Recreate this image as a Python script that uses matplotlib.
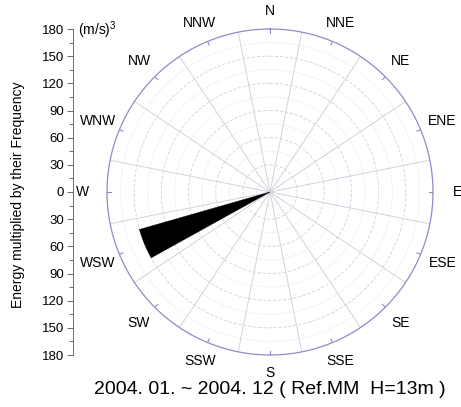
import numpy as np
import matplotlib
matplotlib.use('Agg')
import matplotlib.pyplot as plt

plt.rcParams['font.family'] = 'Liberation Sans'
plt.rcParams['mathtext.fontset'] = 'custom'
plt.rcParams['mathtext.rm'] = 'Liberation Sans'
plt.rcParams['mathtext.default'] = 'regular'

# data
directions = ['N', 'NNE', 'NE', 'ENE', 'E', 'ESE', 'SE', 'SSE',
              'S', 'SSW', 'SW', 'WSW', 'W', 'WNW', 'NW', 'NNW']
energy = [0, 0, 0, 0, 0, 0, 0, 0, 0, 0, 0, 150, 0, 0, 0, 0]
rmax = 180
axis_ticks = [-180, -150, -120, -90, -60, -30, 0, 30, 60, 90, 120, 150, 180]
title = '2004. 01. ~ 2004. 12 ( Ref.MM  H=13m )'

fig = plt.figure(figsize=(4.61, 4.07), dpi=100)

# polar chart
W, H = 461, 407
cx, cy, R = 270, 192, 163
ax = fig.add_axes([(cx - R) / W, (H - cy - R) / H, 2 * R / W, 2 * R / H], projection='polar')
ax.set_theta_zero_location('N')
ax.set_theta_direction(-1)
ax.set_ylim(0, rmax)
ax.set_xticks([])
ax.set_yticks([])
ax.grid(False)
ax.spines['polar'].set_color('#8c8ccc')
ax.spines['polar'].set_linewidth(0.9)

tt = np.linspace(0, 2 * np.pi, 400)
for r in range(15, rmax, 15):
    if r % 30 == 0:
        ax.plot(tt, [r] * len(tt), color='#d0d0e4', lw=0.6, ls=(0, (4, 2)))
    else:
        ax.plot(tt, [r] * len(tt), color='#dcdcea', lw=0.6, ls=(0, (1, 1.5)))

step = 2 * np.pi / len(directions)
for k in range(len(directions)):
    t = k * step + step / 2
    ax.plot([t, t], [0, rmax], color='#d2d2de', lw=0.7)
    t0 = k * step
    ax.plot([t0, t0], [rmax - 4 * rmax / R, rmax], color='#8c8ccc', lw=0.8)

theta = np.arange(len(directions)) * step
ax.bar(theta, energy, width=np.radians(13), color='black', edgecolor='black', lw=0.3, zorder=5)

for k, name in enumerate(directions):
    t = k * step
    rp = 181 + 6 * abs(np.sin(t))
    ax.text(t, rp * rmax / R, name, ha='center', va='center', fontsize=10, clip_on=False)

# left vertical scale
lax = fig.add_axes([72.5 / W, (H - cy - R) / H, 0.001, 2 * R / H])
lax.set_ylim(-rmax, rmax)
lax.set_xticks([])
lax.set_yticks(axis_ticks)
lax.set_yticklabels([str(abs(v)) for v in axis_ticks[::-1]])
lax.set_yticks(range(-165, 180, 30), minor=True)
lax.tick_params(axis='y', which='major', length=4, width=0.6, labelsize=9.5, pad=2, color='#555555')
lax.tick_params(axis='y', which='minor', length=3, width=0.6, color='#555555')
for s in ['top', 'right', 'bottom']:
    lax.spines[s].set_visible(False)
lax.spines['left'].set_linewidth(0.6)
lax.spines['left'].set_color('#555555')
lax.patch.set_visible(False)

fig.text(18 / W, 1 - 195 / H, 'Energy multiplied by their Frequency', rotation=90,
         ha='center', va='center', fontsize=10)
fig.text(78 / W, 1 - 30 / H, '(m/s)$^3$', ha='left', va='center', fontsize=10)
fig.text(cx / W, 1 - 390 / H, title, ha='center', va='center', fontsize=14)

plt.savefig('out.png', dpi=100)
